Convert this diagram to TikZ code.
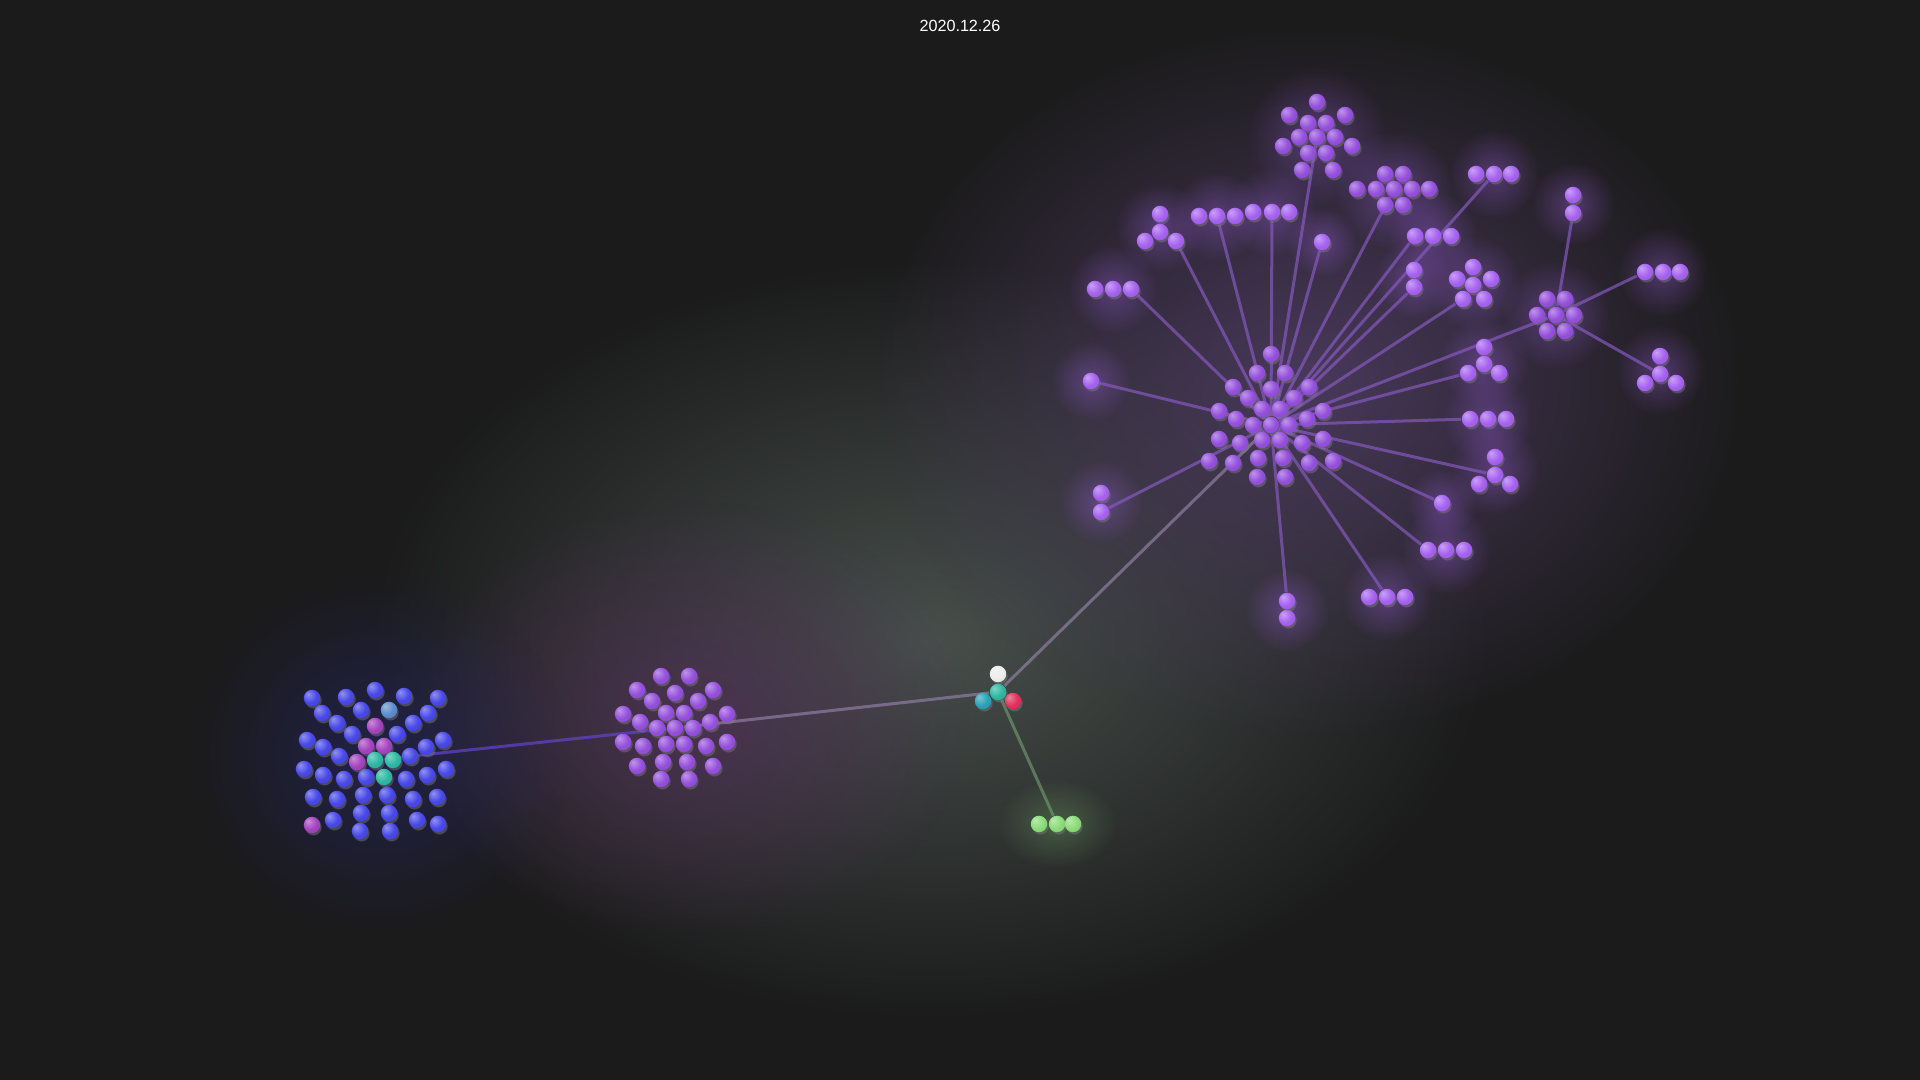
\documentclass[tikz,border=0pt]{standalone}
\usepackage{fontspec}
\setmainfont{Liberation Sans}
\usetikzlibrary{fadings,shadows}

\definecolor{bg}{HTML}{1B1B1B}
\definecolor{glowgray}{HTML}{4A524E}
\definecolor{glowpurp}{HTML}{4E3C62}
\definecolor{glowmag}{HTML}{54305C}
\definecolor{glowblue}{HTML}{262668}
\definecolor{cblue}{HTML}{4848E8}
\definecolor{csteel}{HTML}{5C8CCB}
\definecolor{cmag}{HTML}{A443BE}
\definecolor{cteal}{HTML}{2DB8A2}
\definecolor{cpurp}{HTML}{9550DC}
\definecolor{clav}{HTML}{A662F0}
\definecolor{ccyan}{HTML}{2AA2B8}
\definecolor{cred}{HTML}{E0315C}
\definecolor{cwhite}{HTML}{EDEDED}
\definecolor{cgreen}{HTML}{8BDC78}
\definecolor{clink}{HTML}{8559BE}

\tikzfading[name=glowfade, inner color=transparent!0, outer color=transparent!100]

\colorlet{ballc}{cpurp}
\pgfdeclareradialshading[ballc]{sphere}{\pgfpoint{-12bp}{12bp}}{color(0bp)=(ballc!60!white); color(22bp)=(ballc); color(45bp)=(ballc!88!black); color(65bp)=(ballc!70!black)}

\pgfdeclarelayer{back}
\pgfdeclarelayer{links}
\pgfsetlayers{back,links,main}

\tikzset{
  ball/.style={circle, inner sep=0pt, minimum size=0.165cm, shade, shading=sphere,
    /utils/exec={\colorlet{ballc}{#1}},
    circular drop shadow={shadow xshift=0.012cm, shadow yshift=-0.02cm, opacity=0.45, shadow scale=1.05}},
  link/.style={line width=0.03cm, draw=clink, opacity=0.7},
  halo/.style={fill=#1, path fading=glowfade},
}

\begin{document}
\begin{tikzpicture}[x=0.01cm, y=-0.01cm]
\useasboundingbox (0,0) rectangle (1920,1080);

% background glows
\begin{pgfonlayer}{back}
\fill[bg] (0,0) rectangle (1920,1080);
\fill[halo=glowgray, opacity=0.95] (930,640) ellipse (560 and 380);
\fill[halo=glowpurp, opacity=0.9] (1310,380) ellipse (440 and 360);
\fill[halo=glowmag, opacity=0.7] (690,720) ellipse (280 and 220);
\fill[halo=glowblue, opacity=0.6] (380,755) ellipse (190 and 180);
\foreach \p/\r in {(1317,137)/70,(1394,190)/60,(1494,174)/45,(1433,236)/45,(1322,242)/35,
    (1272,212)/45,(1217,216)/45,(1160,228)/45,(1113,289)/45,(1091,381)/40,(1101,502)/42,
    (1287,610)/42,(1387,597)/45,(1446,550)/45,(1442,503)/35,(1495,470)/45,(1488,419)/45,
    (1484,362)/45,(1556,315)/55,(1573,204)/42,(1663,272)/45,(1660,370)/45,(1473,283)/48,(1414,279)/40}
  \fill[halo=clav, opacity=0.35] \p circle (\r);
\fill[halo=cgreen, opacity=0.25] (1057,824) ellipse (60 and 45);
\end{pgfonlayer}

\node[text=white, font=\fontsize{4.6}{5}\selectfont] (date) at (960,26) {2020.12.26};

% blue cluster
\foreach \p [count=\i] in {(312,698),(346,697),(375,690),(404,696),(438,698),(322,713),(361,710),
    (428,713),(337,723),(413,723),(352,734),(397,734),(307,740),(443,740),(323,747),(426,747),
    (339,756),(410,756),(304,769),(446,769),(323,775),(344,779),(366,777),(406,779),(427,775),
    (313,797),(337,799),(363,795),(387,795),(413,799),(437,797),(333,820),(361,813),(389,813),
    (417,820),(438,824),(360,831),(390,831)}
  \node[ball=cblue] (b\i) at \p {};
\node[ball=csteel] (bs) at (389,710) {};
\foreach \p [count=\i] in {(375,726),(366,746),(384,746),(357,762),(312,825)}
  \node[ball=cmag] (bm\i) at \p {};
\node[ball=cteal] (bhub) at (375,760) {};
\node[ball=cteal] (bt1) at (393,760) {};
\node[ball=cteal] (bt2) at (384,777) {};

% middle cluster
\foreach \p [count=\i] in {(661,676),(689,676),(637,690),(675,693),(713,690),(652,701),(698,701),
    (623,714),(666,713),(684,713),(727,714),(640,722),(710,722),(657,728),(693,728),(623,742),
    (643,746),(666,744),(684,744),(706,746),(727,742),(637,766),(663,762),(687,762),(713,766),
    (661,779),(689,779)}
  \node[ball=cpurp] (m\i) at \p {};
\node[ball=cpurp] (mhub) at (675,728) {};

% hub
\node[ball=cwhite] (hw) at (998,674) {};
\node[ball=ccyan] (hc) at (983,701) {};
\node[ball=cred] (hr) at (1013,701) {};
\node[ball=cteal] (hub) at (998,692) {};
\node[ball=cgreen] (g1) at (1039,824) {};
\node[ball=cgreen] (gmid) at (1057,824) {};
\node[ball=cgreen] (g3) at (1073,824) {};

% core cluster
\foreach \p [count=\i] in {(1271,354),(1257,373),(1285,373),(1233,387),(1271,389),(1309,387),
    (1248,398),(1294,398),(1219,411),(1262,409),(1280,409),(1323,411),(1236,419),(1253,425),
    (1289,425),(1307,419),(1219,439),(1240,443),(1262,440),(1280,440),(1302,443),(1323,439),
    (1209,461),(1233,463),(1258,458),(1283,458),(1309,463),(1333,461),(1257,477),(1285,477)}
  \node[ball=cpurp] (k\i) at \p {};
\node[ball=cpurp] (core) at (1271,425) {};

% top cluster and flowers
\foreach \p [count=\i] in {(1317,102),(1289,115),(1345,115),(1308,123),(1326,123),(1299,137),
    (1335,137),(1283,146),(1352,146),(1308,153),(1326,153),(1302,170),(1333,170)}
  \node[ball=cpurp] (t\i) at \p {};
\node[ball=cpurp] (top) at (1317,137) {};
\foreach \p [count=\i] in {(1385,174),(1403,174),(1357,189),(1376,189),(1412,189),(1429,189),
    (1385,205),(1403,205)}
  \node[ball=cpurp] (n\i) at \p {};
\node[ball=cpurp] (fnine) at (1394,189) {};
\foreach \p [count=\i] in {(1547,299),(1565,299),(1537,315),(1574,315),(1547,331),(1565,331)}
  \node[ball=cpurp] (q\i) at \p {};
\node[ball=cpurp] (fseven) at (1556,315) {};

% small groups
\foreach \p [count=\i] in {(1476,174),(1511,174),(1433,236),(1451,236),(1253,212),(1289,212),
    (1199,216),(1235,216),(1160,214),(1160,232),(1145,241),(1095,289),(1113,289),(1101,493),
    (1287,618),(1369,597),(1405,597),(1446,550),(1464,550),(1495,457),(1479,484),(1510,484),
    (1488,419),(1506,419),(1484,347),(1484,364),(1499,373),(1573,195),(1663,272),(1680,272),
    (1660,356),(1645,383),(1676,383),(1473,267),(1457,279),(1473,285),(1491,279),(1484,299),
    (1414,270)}
  \node[ball=clav] (s\i) at \p {};
\node[ball=clav] (tA) at (1494,174) {};
\node[ball=clav] (tB) at (1415,236) {};
\node[ball=clav] (sC) at (1322,242) {};
\node[ball=clav] (tD) at (1272,212) {};
\node[ball=clav] (tE) at (1217,216) {};
\node[ball=clav] (tF) at (1176,241) {};
\node[ball=clav] (tG) at (1131,289) {};
\node[ball=clav] (sH) at (1091,381) {};
\node[ball=clav] (pI) at (1101,512) {};
\node[ball=clav] (pJ) at (1287,601) {};
\node[ball=clav] (tK) at (1387,597) {};
\node[ball=clav] (tL) at (1428,550) {};
\node[ball=clav] (sM) at (1442,503) {};
\node[ball=clav] (tN) at (1495,475) {};
\node[ball=clav] (tO) at (1470,419) {};
\node[ball=clav] (tP) at (1468,373) {};
\node[ball=clav] (pR) at (1573,213) {};
\node[ball=clav] (tS) at (1645,272) {};
\node[ball=clav] (tT) at (1660,374) {};
\node[ball=clav] (fU) at (1463,299) {};
\node[ball=clav] (pV) at (1414,287) {};

% links
\begin{pgfonlayer}{links}
\draw[link, draw=clink!75!blue] (bhub) -- (mhub);
\draw[link, draw=clink!40!gray!90!white] (mhub) -- (hub);
\draw[link, draw=gray!85!green] (hub) -- (gmid);
\draw[link, draw=clink!35!gray!90!white] (hub) -- (core);
\foreach \s in {top,fnine,tA,tB,sC,tD,tE,tF,tG,sH,pI,pJ,tK,tL,sM,tN,tO,tP,fseven,fU,pV}
  \draw[link] (core) -- (\s);
\foreach \s in {pR,tS,tT}
  \draw[link] (fseven) -- (\s);
\end{pgfonlayer}

\end{tikzpicture}
\end{document}
